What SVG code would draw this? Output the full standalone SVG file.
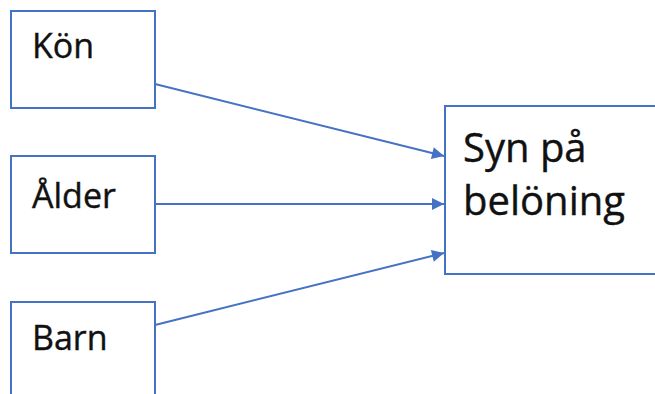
<svg xmlns="http://www.w3.org/2000/svg" width="655" height="394" viewBox="0 0 655 394">
<style>
.box{fill:#fff;stroke:#4472C4;stroke-width:2}
.lbl{font-family:"Open Sans","Liberation Sans",sans-serif;font-size:34px;fill:#111;stroke:#111;stroke-width:0.4}
.big{font-size:40px}
.conn{stroke:#4472C4;stroke-width:2;fill:none;marker-end:url(#ah)}
</style>
<defs>
<marker id="ah" viewBox="0 0 10 10" refX="10" refY="5" markerWidth="7" markerHeight="6" orient="auto" markerUnits="strokeWidth">
<path d="M0,0L10,5L0,10z" fill="#4472C4"/>
</marker>
</defs>
<rect width="655" height="394" fill="#fff"/>
<g id="kon"><rect class="box" x="11" y="11" width="144" height="97"/><text class="lbl" x="32" y="58">Kön</text></g>
<g id="alder"><rect class="box" x="11" y="156" width="144" height="97"/><text class="lbl" x="32" y="208">Ålder</text></g>
<g id="barn"><rect class="box" x="11" y="302" width="144" height="100"/><text class="lbl" x="32" y="350">Barn</text></g>
<g id="syn"><rect class="box" x="445" y="106" width="215" height="168"/><text class="lbl big" x="463" y="162">Syn på</text><text class="lbl big" x="463" y="215">belöning</text></g>
<g id="connectors">
<line class="conn" x1="155" y1="84" x2="444" y2="156"/>
<line class="conn" x1="155" y1="204" x2="444" y2="204"/>
<line class="conn" x1="155" y1="325" x2="444" y2="253"/>
</g>
</svg>
